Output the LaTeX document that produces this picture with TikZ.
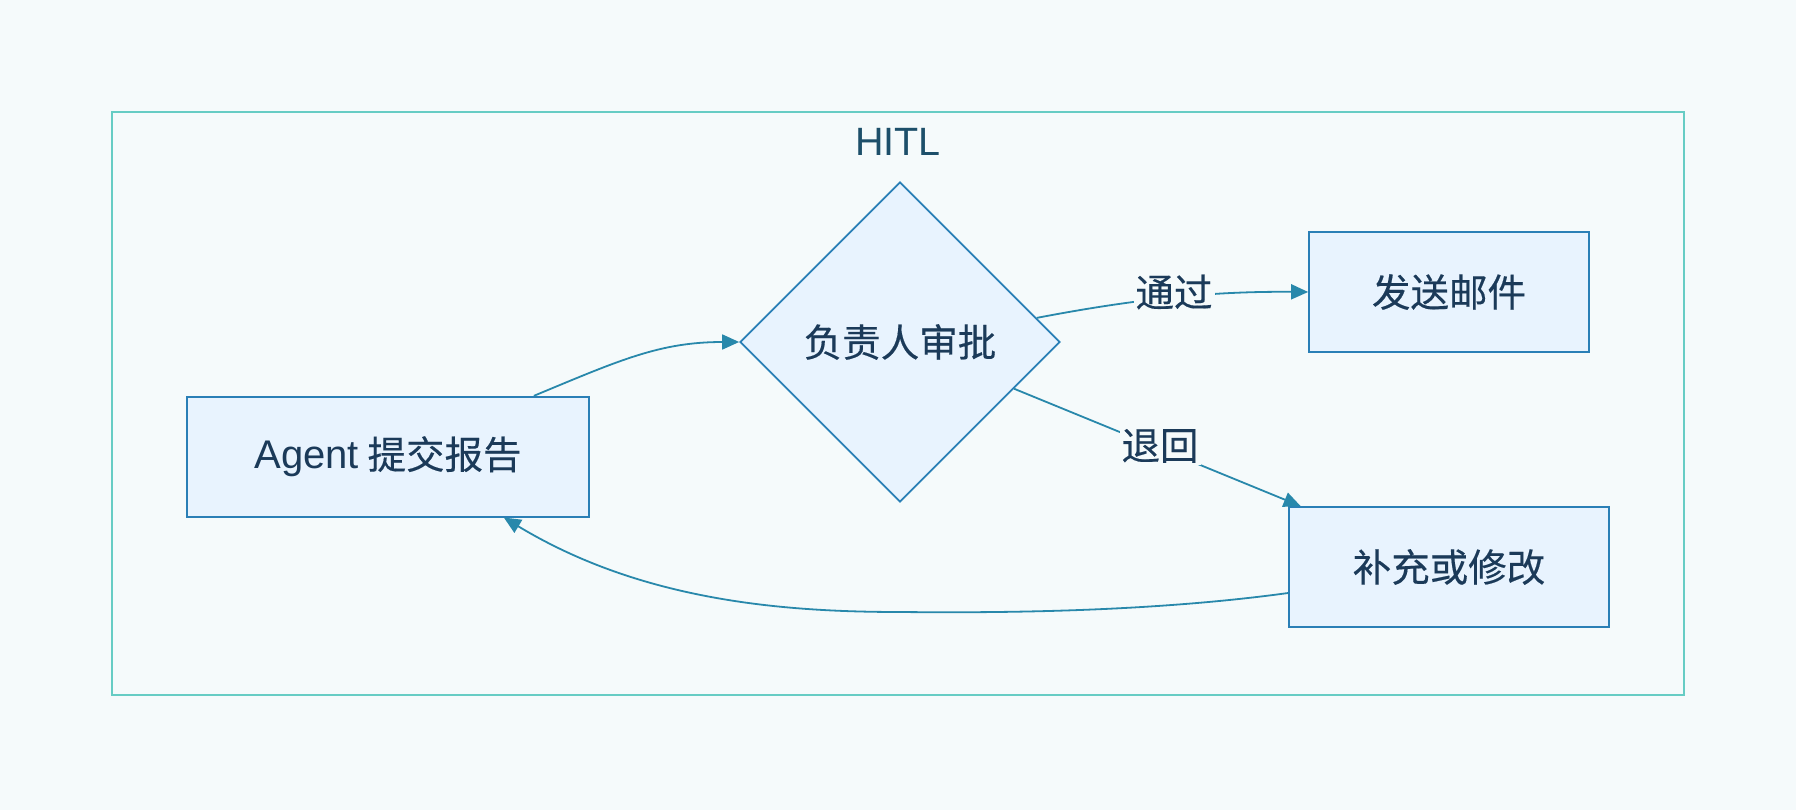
\documentclass[tikz,border=0pt]{standalone}
\usepackage{fontspec}
\setmainfont{Noto Sans CJK SC}[FakeBold=0.35]
\newfontfamily\latinfont{Liberation Sans}
\usetikzlibrary{arrows.meta,shapes.geometric}
\definecolor{bgc}{HTML}{F5FAFB}
\definecolor{framec}{HTML}{66CCC4}
\definecolor{boxfill}{HTML}{E8F3FE}
\definecolor{boxdraw}{HTML}{2A7FB6}
\definecolor{edgec}{HTML}{2888AB}
\definecolor{txtc}{HTML}{1B3A59}
\definecolor{titlec}{HTML}{1D4F6A}
\begin{document}
\begin{tikzpicture}[x=1pt,y=-1pt,
  txt/.style={font=\fontsize{38.5pt}{46pt}\selectfont, text=txtc},
  boxnode/.style={txt, draw=boxdraw, fill=boxfill, line width=1.7pt, minimum height=120pt, inner sep=0pt, rectangle},
  decision/.style={txt, diamond, draw=boxdraw, fill=boxfill, line width=1.7pt, minimum width=320pt, minimum height=320pt, inner sep=0pt, aspect=1},
  edge/.style={draw=edgec, line width=1.8pt, -{Triangle[length=17pt,width=15pt]}, fill=none},
  lbl/.style={txt, fill=bgc, inner sep=2pt}
]
\fill[bgc] (0,0) rectangle (1796,810);
\useasboundingbox (0,0) rectangle (1796,810);

\draw[framec, line width=1.8pt] (112,112) rectangle (1684,695);
\node[font=\latinfont\fontsize{39.5pt}{46pt}\selectfont, text=titlec] (title) at (898,142) {HITL};

\node[boxnode, minimum width=402pt] (a) at (388,456.7) {{\latinfont\fontsize{40pt}{46pt}\selectfont Agent} 提交报告};
\node[decision] (d) at (900,342) {负责人审批};
\node[boxnode, minimum width=280pt] (b2) at (1449,292) {发送邮件};
\node[boxnode, minimum width=320pt] (b3) at (1449,567) {补充或修改};

% Agent -> decision
\draw[edge] ([xshift=-56pt]a.north east) .. controls (620,360) and (660,342) .. (d.west);

% decision -> send mail
\draw[edge] (d.10) .. controls (1120,302) and (1200,291) .. (b2.west);
\node[lbl] (l1) at (1174,292) {通过};

% decision -> revise
\draw[edge] (d) -- (b3);
\node[lbl] (l2) at (1160,446) {退回};

% revise -> Agent
\draw[edge] ([yshift=-26pt]b3.west) .. controls (1150,612) and (1000,613) .. (900,612)
  .. controls (780,612) and (640,600) .. ([xshift=-86pt]a.south east);
\end{tikzpicture}
\end{document}
